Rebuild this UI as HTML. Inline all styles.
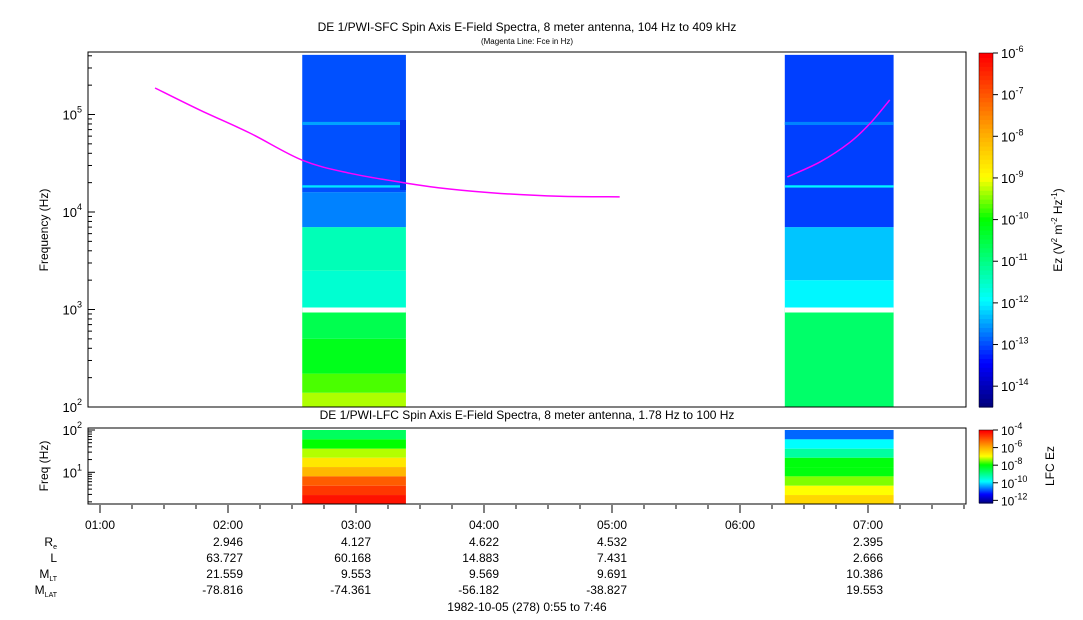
<!DOCTYPE html>
<html><head><meta charset="utf-8"><style>
body{margin:0;background:#fff;}
svg{display:block;font-family:"Liberation Sans",sans-serif;}
</style></head><body>
<svg id="c" width="1083" height="620" viewBox="0 0 1083 620" xmlns="http://www.w3.org/2000/svg">
<text x="527" y="31" font-size="12" text-anchor="middle">DE 1/PWI-SFC  Spin Axis E-Field Spectra, 8 meter antenna, 104 Hz to 409 kHz</text>
<text x="527" y="44" font-size="8" text-anchor="middle">(Magenta Line: Fce in Hz)</text>
<text x="527" y="419" font-size="12" text-anchor="middle">DE 1/PWI-LFC  Spin Axis E-Field Spectra, 8 meter antenna, 1.78 Hz to 100 Hz</text>
<g id="g"></g>
</svg>
<script>
// ---- data ----
const timeTicks=["01:00","02:00","03:00","04:00","05:00","06:00","07:00"];
const tickHours=[1,2,3,4,5,6,7];
const ephemHours=[2,3,4,5,7];
const ephemRe=["2.946","4.127","4.622","4.532","2.395"];
const ephemL=["63.727","60.168","14.883","7.431","2.666"];
const ephemMLT=["21.559","9.553","9.569","9.691","10.386"];
const ephemMLAT=["-78.816","-74.361","-56.182","-38.827","19.553"];
const blockTimes=[[2.58,3.39],[6.35,7.2]];
// bands: [fLow,fHigh,log10 Ez]
const sfcBands1=[[100,140,-9.3],[140,220,-9.7],[220,500,-10.2],[500,1000,-10.6],[1000,2500,-11.6],[2500,7000,-11.4],[7000,16000,-12.7],[16000,409000,-13.0],[78000,84000,-12.5],[17800,18800,-12.1]];
const sfcBands2=[[100,1000,-10.8],[1000,2000,-12.0],[2000,7000,-12.3],[7000,409000,-13.1],[78000,84000,-12.7],[17800,18800,-12.0]];
const lfcEdges=[100,60,36,22,13.3,8,4.8,2.9,1.78];
const lfc1=[-8.6,-7.9,-7.2,-6.6,-6.0,-5.0,-4.6,-4.2];
const lfc2=[-10.7,-9.8,-9.1,-8.0,-8.0,-7.4,-6.9,-6.4];
const fceHours1=[1.43,1.78,2.17,2.58,2.95,3.39,3.73,4.13,4.59,5.06];
const fceVals1=[187000,111000,64600,34000,25000,19800,17200,15500,14500,14300];
const fceHours2=[6.37,6.625,6.86,7.02,7.17];
const fceVals2=[22900,32600,52000,82000,141000];

const NS="http://www.w3.org/2000/svg",G=document.getElementById('g');
function el(t,a,p){const e=document.createElementNS(NS,t);for(const k in a)e.setAttribute(k,a[k]);(p||G).appendChild(e);return e;}
const X0=88,X1=966,tx=h=>100+(h-1)*128;
const yS=f=>407-(Math.log10(f)-2)*97.5;
const yL=f=>504-(Math.log10(f)-Math.log10(1.78))*(74/Math.log10(100/1.78));
const stops=[[0,[0,0,128]],[0.12,[0,0,255]],[0.3,[0,255,255]],[0.53,[0,255,0]],[0.65,[255,255,0]],[0.77,[255,176,0]],[1,[255,0,0]]];
function cmap(t){t=Math.max(0,Math.min(1,t));for(let i=1;i<stops.length;i++)if(t<=stops[i][0]){const a=stops[i-1],b=stops[i],u=(t-a[0])/(b[0]-a[0]);return 'rgb('+a[1].map((v,j)=>Math.round(v+(b[1][j]-v)*u)).join(',')+')';}return 'rgb(255,0,0)';}
const sfcT=v=>(v+14.5)/8.5, lfcT=v=>(v+12.3)/8.3;
[sfcBands1,sfcBands2].forEach((bands,i)=>{const x0=tx(blockTimes[i][0]),x1=tx(blockTimes[i][1]);
 bands.forEach(b=>{const r=el('rect',{x:x0,y:Math.max(yS(b[1]),53),width:x1-x0,height:yS(b[0])-Math.max(yS(b[1]),53),fill:cmap(sfcT(b[2]))});
 });
 el('rect',{x:x0,y:yS(1000)-2,width:x1-x0,height:5,fill:'#fff'});});
el('rect',{x:400,y:120,width:6,height:70,fill:'#0030e8'});
[lfc1,lfc2].forEach((vals,i)=>{const x0=tx(blockTimes[i][0]),x1=tx(blockTimes[i][1]);
 vals.forEach((v,j)=>{const ya=Math.max(yL(lfcEdges[j]),429),yb=yL(lfcEdges[j+1]);const r=el('rect',{x:x0,y:ya,width:x1-x0,height:yb-ya,fill:cmap(lfcT(v))});
 });});
function smooth(pts){let d='M'+pts[0][0]+','+pts[0][1];for(let i=0;i<pts.length-1;i++){const p0=pts[Math.max(0,i-1)],p1=pts[i],p2=pts[i+1],p3=pts[Math.min(pts.length-1,i+2)];
 d+=' C'+(p1[0]+(p2[0]-p0[0])/6)+','+(p1[1]+(p2[1]-p0[1])/6)+' '+(p2[0]-(p3[0]-p1[0])/6)+','+(p2[1]-(p3[1]-p1[1])/6)+' '+p2[0]+','+p2[1];}return d;}
[[fceHours1,fceVals1],[fceHours2,fceVals2]].forEach(([h,v])=>{const p=el('path',{d:smooth(h.map((t,i)=>[tx(t),yS(v[i])])),fill:'none',stroke:'#ff00ff','stroke-width':1.5});
 });
el('rect',{x:X0,y:52,width:X1-X0,height:355,fill:'none',stroke:'#000'});
el('rect',{x:X0,y:428,width:X1-X0,height:76,fill:'none',stroke:'#000'});
for(let d=2;d<=5;d++){for(let m=1;m<10;m++){const f=m*Math.pow(10,d);if(f>409000)break;const y=yS(f);el('line',{x1:X0,x2:X0+(m==1?7:4),y1:y,y2:y,stroke:'#000'});}
 const t=el('text',{x:X0-6,y:yS(Math.pow(10,d))+5,'font-size':13,'text-anchor':'end'});t.innerHTML='10<tspan font-size="9" dy="-7">'+d+'</tspan>';}
for(let d=0;d<=2;d++){for(let m=1;m<10;m++){const f=m*Math.pow(10,d);if(f<1.78||f>100)continue;const y=yL(f);el('line',{x1:X0,x2:X0+(m==1?7:4),y1:y,y2:y,stroke:'#000'});}}
[1,2].forEach(d=>{const t=el('text',{x:X0-6,y:yL(Math.pow(10,d))+5,'font-size':13,'text-anchor':'end'});t.innerHTML='10<tspan font-size="9" dy="-7">'+d+'</tspan>';});
el('text',{x:48,y:230,'font-size':12,'text-anchor':'middle',transform:'rotate(-90 48 230)'}).textContent='Frequency (Hz)';
el('text',{x:48,y:466,'font-size':12,'text-anchor':'middle',transform:'rotate(-90 48 466)'}).textContent='Freq (Hz)';
for(let h=0.75;h<=7.8;h+=0.25){const x=tx(h);if(x<X0||x>X1)continue;const major=Math.abs(h-Math.round(h))<1e-6;el('line',{x1:x,x2:x,y1:505,y2:major?513:509,stroke:'#000'});}
timeTicks.forEach((s,i)=>{const t=el('text',{x:tx(tickHours[i])+15,y:529,'font-size':12,'text-anchor':'end'});t.textContent=s;});
const rows=[ephemRe,ephemL,ephemMLT,ephemMLAT];
rows.forEach((r,k)=>{r.forEach((s,i)=>{const t=el('text',{x:tx(ephemHours[i])+15,y:546+k*16,'font-size':12,'text-anchor':'end'});t.textContent=s;});});
const lab=[['R','e'],['L',''],['M','LT'],['M','LAT']];
lab.forEach((l,k)=>{const t=el('text',{x:57,y:546+k*16,'font-size':12,'text-anchor':'end'});t.innerHTML=l[0]+(l[1]?'<tspan font-size="7" dy="3">'+l[1]+'</tspan>':'');});
el('text',{x:527,y:611,'font-size':12,'text-anchor':'middle'}).textContent='1982-10-05 (278) 0:55 to 7:46';
function cbar(y0,y1,lo,hi,labs,fs){const n=80;for(let i=0;i<n;i++){const y=y1-(i+1)*(y1-y0)/n;el('rect',{x:979,y:y,width:14,height:(y1-y0)/n+0.6,fill:cmap(i/(n-1))});}
 el('rect',{x:979,y:y0,width:14,height:y1-y0,fill:'none',stroke:'#000','stroke-width':0.5});
 labs.forEach(e=>{const y=y1-(e-lo)/(hi-lo)*(y1-y0);el('line',{x1:993,x2:998,y1:y,y2:y,stroke:'#000'});const t=el('text',{x:1001,y:y+5,'font-size':fs});t.innerHTML='10<tspan font-size="9" dy="-6">'+e+'</tspan>';});}
cbar(53,407,-14.5,-6,[-6,-7,-8,-9,-10,-11,-12,-13,-14],13);
cbar(430,503,-12.3,-4,[-4,-6,-8,-10,-12],12);
el('text',{x:1062,y:230,'font-size':12,'text-anchor':'middle',transform:'rotate(-90 1062 230)'}).innerHTML='Ez (V<tspan font-size="8" dy="-5">2</tspan><tspan dy="5"> m</tspan><tspan font-size="8" dy="-5">-2</tspan><tspan dy="5"> Hz</tspan><tspan font-size="8" dy="-5">-1</tspan><tspan dy="5">)</tspan>';
el('text',{x:1054,y:466,'font-size':12,'text-anchor':'middle',transform:'rotate(-90 1054 466)'}).textContent='LFC Ez';
</script>
</body></html>
